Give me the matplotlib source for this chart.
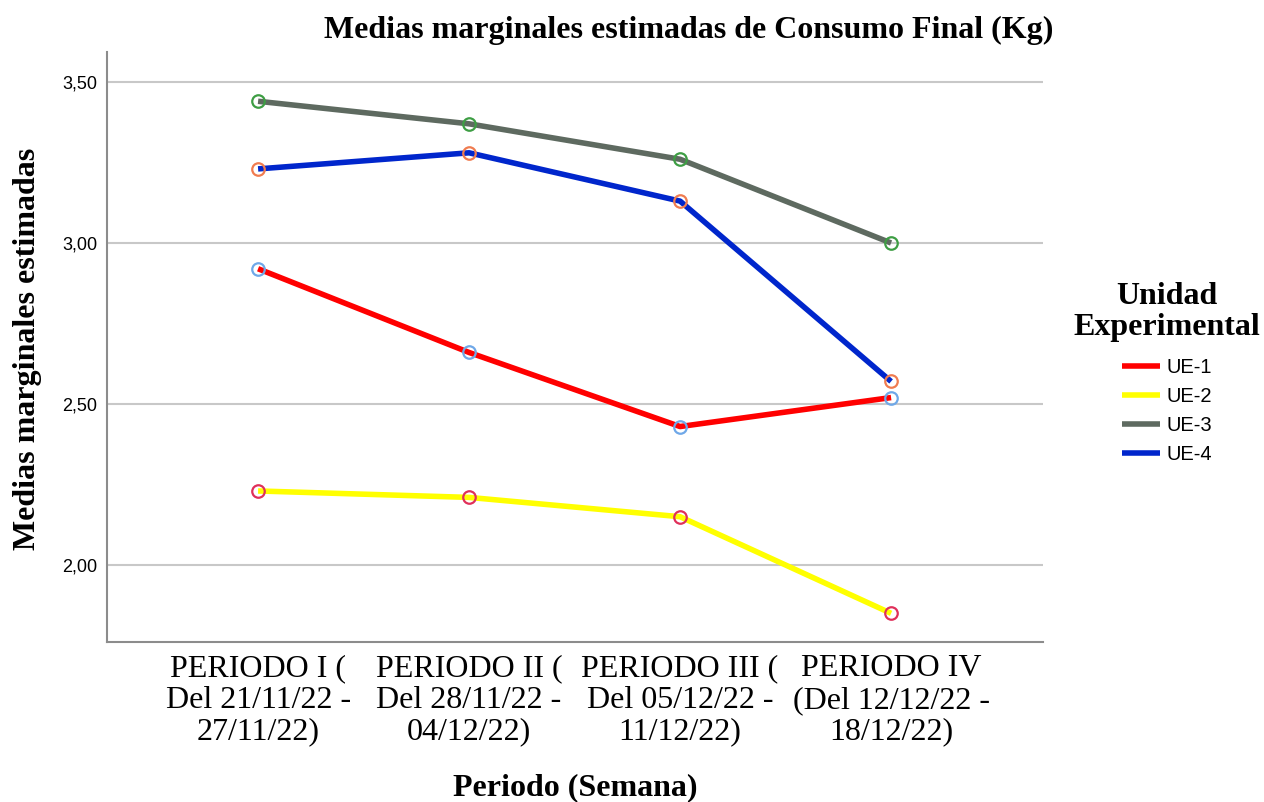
import matplotlib
matplotlib.use("Agg")
import matplotlib.pyplot as plt
import numpy as np

periodos = [
    "PERIODO I (\nDel 21/11/22 -\n27/11/22)",
    "PERIODO II (\nDel 28/11/22 -\n04/12/22)",
    "PERIODO III (\nDel 05/12/22 -\n11/12/22)",
    "PERIODO IV\n(Del 12/12/22 -\n18/12/22)",
]
unidades = ["UE-1", "UE-2", "UE-3", "UE-4"]
ue1 = [2.92, 2.66, 2.43, 2.52]
ue2 = [2.23, 2.21, 2.15, 1.85]
ue3 = [3.44, 3.37, 3.26, 3.00]
ue4 = [3.23, 3.28, 3.13, 2.57]
yticks = [2.0, 2.5, 3.0, 3.5]

line_colors = ["#FF0000", "#FFFF00", "#5E6A60", "#0026CC"]
marker_colors = ["#6FA8E8", "#E0305A", "#3E9E44", "#F07C50"]

serif = "Liberation Serif"
sans = "Liberation Sans"

fig = plt.figure(figsize=(12.64, 8.02), dpi=100)
ax = fig.add_axes([107 / 1264, 1 - 642 / 802, (1043 - 107) / 1264, (642 - 52) / 802])

x = np.arange(len(periodos))
for serie, nombre, lc, mc in zip([ue1, ue2, ue3, ue4], unidades, line_colors, marker_colors):
    ax.plot(x, serie, color=lc, lw=4, label=nombre, solid_capstyle="butt", zorder=3)
    ax.plot(x, serie, ls="none", marker="o", ms=9, mfc="none", mec=mc, mew=1.6, zorder=4)

ax.set_xlim(-0.716, 3.72)
ax.set_ylim(1.761, 3.593)
ax.set_yticks(yticks)
ax.set_yticklabels([f"{v:.2f}".replace(".", ",") for v in yticks], fontfamily=sans, fontsize=13)
ax.set_xticks(x)
ax.set_xticklabels(periodos, fontfamily=serif, fontsize=23, linespacing=1.11)
ax.tick_params(axis="both", length=0)
ax.tick_params(axis="x", pad=9)
ax.tick_params(axis="y", pad=7)
ax.grid(axis="y", color="#C8C8C8", lw=1.5, zorder=0)
ax.set_axisbelow(True)
for s in ["top", "right"]:
    ax.spines[s].set_visible(False)
for s in ["left", "bottom"]:
    ax.spines[s].set_color("#8C8C8C")
    ax.spines[s].set_linewidth(1.5)

fig.text(689 / 1264, 1 - 30 / 802, "Medias marginales estimadas de Consumo Final (Kg)",
         ha="center", va="center", fontfamily=serif, fontweight="bold", fontsize=23)
fig.text(28 / 1264, 1 - 349 / 802, "Medias marginales estimadas", rotation=90,
         ha="center", va="center", fontfamily=serif, fontweight="bold", fontsize=23)
fig.text(575 / 1264, 1 - 788 / 802, "Periodo (Semana)",
         ha="center", va="center", fontfamily=serif, fontweight="bold", fontsize=23)

# titulo de la leyenda aparte
fig.text(1167 / 1264, 1 - 312 / 802, "Unidad\nExperimental", ha="center", va="center",
         multialignment="center", linespacing=1.1,
         fontfamily=serif, fontweight="bold", fontsize=23)
leg = ax.legend(loc="center", bbox_to_anchor=(1167 / 1264, 1 - 411 / 802),
                bbox_transform=fig.transFigure, frameon=False,
                prop={"family": sans, "size": 14.5},
                handlelength=1.9, handletextpad=0.35, labelspacing=0.5)

fig.savefig("out.png", dpi=100)
